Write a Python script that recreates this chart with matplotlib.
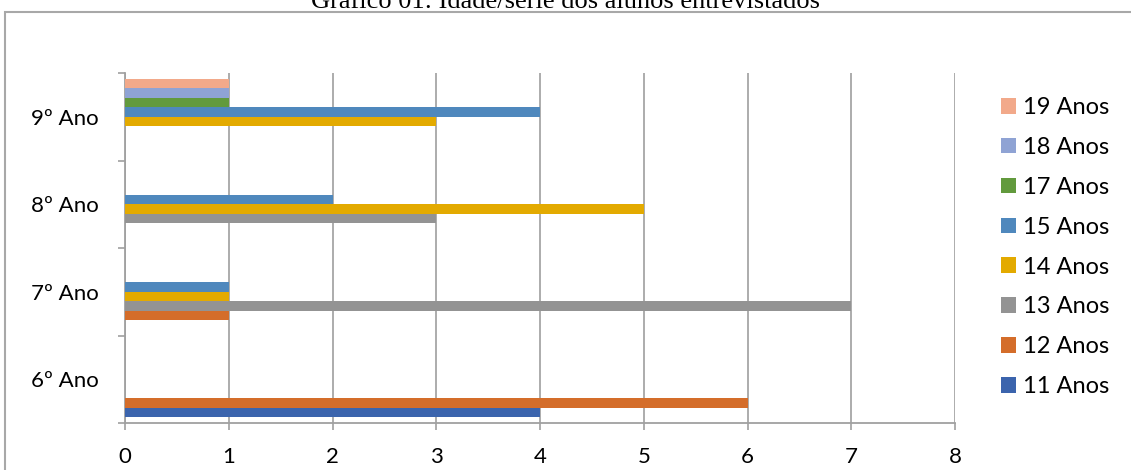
import matplotlib
matplotlib.use("Agg")
import matplotlib.pyplot as plt
from matplotlib.patches import Rectangle
import numpy as np


CATEGORIES = ["6º Ano", "7º Ano", "8º Ano", "9º Ano"]
SERIES_LABELS = ["11 Anos", "12 Anos", "13 Anos", "14 Anos", "15 Anos", "17 Anos", "18 Anos", "19 Anos"]
SERIES_COLORS = ["#3B64AD", "#D46D2A", "#939393", "#E3AA00", "#4F88BD", "#629A3D", "#8FA3D4", "#F2A98A"]

# one list per age group, values per school year (6º, 7º, 8º, 9º)
ANOS_11 = [4, 0, 0, 0]
ANOS_12 = [6, 1, 0, 0]
ANOS_13 = [0, 7, 3, 0]
ANOS_14 = [0, 1, 5, 3]
ANOS_15 = [0, 1, 2, 4]
ANOS_17 = [0, 0, 0, 1]
ANOS_18 = [0, 0, 0, 1]
ANOS_19 = [0, 0, 0, 1]
SERIES_VALUES = [ANOS_11, ANOS_12, ANOS_13, ANOS_14, ANOS_15, ANOS_17, ANOS_18, ANOS_19]

X_TICKS = [0, 1, 2, 3, 4, 5, 6, 7, 8]
TITLE = "Gráfico 01: Idade/série dos alunos entrevistados"


def main():
    plt.rcParams["font.family"] = ["Lato", "DejaVu Sans"]

    fig = plt.figure(figsize=(11.31, 4.70), dpi=100)
    fig.patch.set_facecolor("white")

    # outer chart border (Excel chart area)
    fig.patches.append(
        Rectangle((5 / 1131, -0.05), 1.2, 1 - 12 / 470 + 0.05,
                  transform=fig.transFigure, fill=False,
                  edgecolor="#A8A8A8", linewidth=1.5)
    )

    fig.text(0.5, 1 - 8 / 470, TITLE, ha="center", va="baseline",
             fontsize=19, family=["Liberation Serif"], color="black")

    ax = fig.add_axes([125 / 1131, 47 / 470, 830 / 1131, 350 / 470])

    n_series = len(SERIES_VALUES)
    gap = 12 / 87.5
    bar_h = (1 - gap) / n_series
    y_base = np.arange(len(CATEGORIES))

    handles = []
    for i, (values, label, color) in enumerate(zip(SERIES_VALUES, SERIES_LABELS, SERIES_COLORS)):
        y_pos = y_base - 0.5 + gap / 2 + (i + 0.5) * bar_h
        bars = ax.barh(y_pos, values, height=bar_h, color=color, label=label, zorder=3)
        handles.append(bars)

    ax.set_xlim(0, 8)
    ax.set_ylim(-0.5, len(CATEGORIES) - 0.5)
    ax.set_xticks(X_TICKS)
    ax.set_xticklabels([str(t) for t in X_TICKS], fontsize=16)
    ax.set_yticks(y_base)
    ax.set_yticklabels(CATEGORIES, fontsize=16)
    ax.set_yticks(np.arange(len(CATEGORIES) + 1) - 0.5, minor=True)

    ax.tick_params(axis="y", which="major", length=0, pad=19)
    ax.tick_params(axis="y", which="minor", length=5, width=1.2, color="#A0A0A0", direction="out")
    ax.tick_params(axis="x", which="major", length=5, width=1.2, color="#A0A0A0", direction="out", pad=12)

    ax.grid(axis="x", color="#A6A6A6", linewidth=1.3, zorder=0)
    for side in ["top", "right"]:
        ax.spines[side].set_visible(False)
    for side in ["left", "bottom"]:
        ax.spines[side].set_color("#A0A0A0")
        ax.spines[side].set_linewidth(1.3)

    fig.legend(handles[::-1], SERIES_LABELS[::-1],
               loc="upper left", bbox_to_anchor=(1001 / 1131, 1 - 97 / 470),
               frameon=False, fontsize=17, handlelength=0.64, handleheight=0.64,
               handletextpad=0.3, labelspacing=0.8, borderaxespad=0, borderpad=0)

    plt.savefig("out.png", dpi=100)
    plt.close()


if __name__ == "__main__":
    main()
